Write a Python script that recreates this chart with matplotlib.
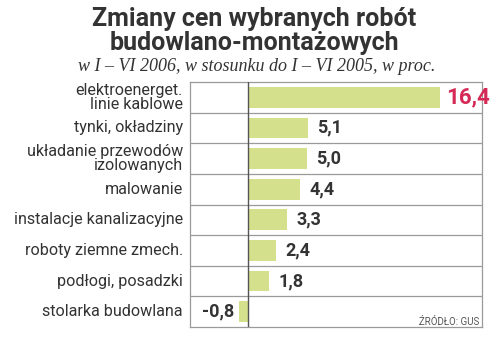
import matplotlib.pyplot as plt

categories = ["elektroenerget.\nlinie kablowe", "tynki, okładziny",
              "układanie przewodów\nizolowanych", "malowanie",
              "instalacje kanalizacyjne", "roboty ziemne zmech.",
              "podłogi, posadzki", "stolarka budowlana"]
values = [16.4, 5.1, 5.0, 4.4, 3.3, 2.4, 1.8, -0.8]
labels = ["16,4", "5,1", "5,0", "4,4", "3,3", "2,4", "1,8", "-0,8"]

plt.rcParams['font.family'] = ['Roboto', 'DejaVu Sans']
dark = "#333333"
grid = "#9a9a9a"

fig = plt.figure(figsize=(4.99, 3.41), dpi=100)
ax = fig.add_axes([190 / 499, 14 / 341, 292 / 499, 245 / 341])

n = len(values)
ys = list(range(n))
ax.barh(ys, values, height=0.68, color="#d5e08c", zorder=2)
ax.set_xlim(-5, 20)
ax.set_ylim(n - 0.5, -0.5)

for i in range(1, n):
    ax.axhline(i - 0.5, color=grid, lw=0.9, zorder=1)
ax.axvline(0, color="#555555", lw=1.0, zorder=3)

for sp in ax.spines.values():
    sp.set_color(grid)
    sp.set_linewidth(0.9)
ax.set_xticks([])
ax.set_yticks([])

for y, v, lab in zip(ys, values, labels):
    if y == 0:
        ax.text(v + 0.55, y, lab, ha="left", va="center", fontsize=16,
                fontweight="bold", color="#d42a55")
    elif v < 0:
        ax.text(v - 0.4, y, lab, ha="right", va="center", fontsize=13,
                fontweight="bold", color=dark)
    else:
        ax.text(v + 0.8, y, lab, ha="left", va="center", fontsize=13,
                fontweight="bold", color=dark)

for y, cat in zip(ys, categories):
    ax.text(-5.6, y, cat, ha="right", va="center", fontsize=11.6,
            color=dark, linespacing=0.88)

ax.text(19.8, 7.35, "ŹRÓDŁO: GUS", ha="right", va="center", fontsize=7,
        color="#555555")

fig.text(0.51, 0.908, "Zmiany cen wybranych robót\nbudowlano-montażowych",
         ha="center", va="center", fontsize=18, fontweight="bold",
         color=dark, linespacing=1.0)
fig.text(0.515, 0.806, "w I – VI 2006, w stosunku do I – VI 2005, w proc.",
         ha="center", va="center", fontsize=13, style="italic",
         family=["Liberation Serif", "DejaVu Serif"], color=dark)

fig.savefig("out.png", dpi=100)
